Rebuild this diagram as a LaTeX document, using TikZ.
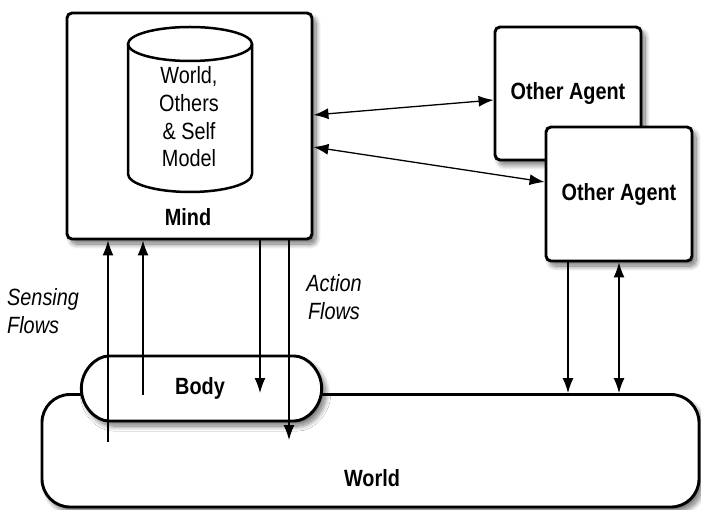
\documentclass[tikz,border=0pt]{standalone}
\usepackage{fontspec}
\setmainfont[FakeStretch=0.845]{Liberation Sans}
\usetikzlibrary{shapes.misc,arrows.meta,shadows.blur,calc}
\begin{document}
\begin{tikzpicture}[x=1pt,y=-1pt,
  box/.style={draw, line width=2.9pt, fill=white, rounded corners=5pt,
    blur shadow={shadow xshift=4pt,shadow yshift=-5pt,shadow blur steps=12,shadow blur radius=5pt,shadow opacity=55}},
  arr/.style={line width=1.3pt, -{Latex[length=15pt,width=11pt]}},
  darr/.style={line width=1.3pt, {Latex[length=15pt,width=11pt]}-{Latex[length=15pt,width=11pt]}},
  bold/.style={font=\fontsize{23.5}{28}\selectfont\bfseries, inner sep=0pt, align=center},
  plain/.style={font=\fontsize{23.5}{27.7}\selectfont, inner sep=0pt, align=center},
  ital/.style={font=\fontsize{23.5}{28}\selectfont\itshape, inner sep=0pt}]
\useasboundingbox (0,0) rectangle (701,510);
% World and Body
\node[box, rounded corners=28pt, minimum width=657pt, minimum height=112.5pt] (world) at (370.5,450.75) {};
\node[bold] (worldlabel) at (372,478) {World};
\node[box, rounded rectangle, minimum width=247pt, minimum height=65pt] (body) at (201.5,388.5) {};
\node[bold] (bodylabel) at (200,388) {Body};
% Mind
\node[box, minimum width=245pt, minimum height=226pt] (mind) at (189.5,126) {};
\draw[line width=2.5pt, fill=white] (128,44) -- (128,174)
   .. controls (128,183.9) and (155.8,192) .. (190,192)
   .. controls (224.2,192) and (252,183.9) .. (252,174) -- (252,44);
\draw[line width=2.5pt, fill=white] (190,44) ellipse [x radius=62pt, y radius=17pt];
\node[plain] (model) at (189,117) {World,\\Others\\\& Self\\Model};
\node[bold] (mindlabel) at (188,217) {Mind};
% Other agents
\node[box, minimum width=146pt, minimum height=133pt, bold] (agent1) at (568,93.5) {Other Agent};
\node[box, minimum width=146pt, minimum height=134pt, bold] (agent2) at (619,194) {Other Agent};
% Labels
\node[ital, anchor=west, align=left] (sensing) at (7,311) {Sensing\\Flows};
\node[ital, align=center] (action) at (334,297) {Action\\Flows};
% Flows
\coordinate (s1) at (108,442);
\coordinate (s2) at (143,395);
\coordinate (a1) at (260,393);
\coordinate (a2) at (289,440);
\draw[arr] (s1) -- (s1 |- mind.south);
\draw[arr] (s2) -- (s2 |- mind.south);
\draw[arr] (a1 |- mind.south) -- (a1);
\draw[arr] (a2 |- mind.south) -- (a2);
% Mind <-> agents
\draw[darr] ([yshift=11pt]mind.east) -- ([yshift=-6.5pt]agent1.west);
\draw[darr] ([yshift=-21pt]mind.east) -- ([yshift=12pt]agent2.west);
% Agent 2 <-> World
\draw[arr] ([xshift=-51pt]agent2.south) -- ([xshift=-51pt]agent2.south |- world.north);
\draw[darr] (agent2.south) -- (agent2.south |- world.north);
\end{tikzpicture}
\end{document}
